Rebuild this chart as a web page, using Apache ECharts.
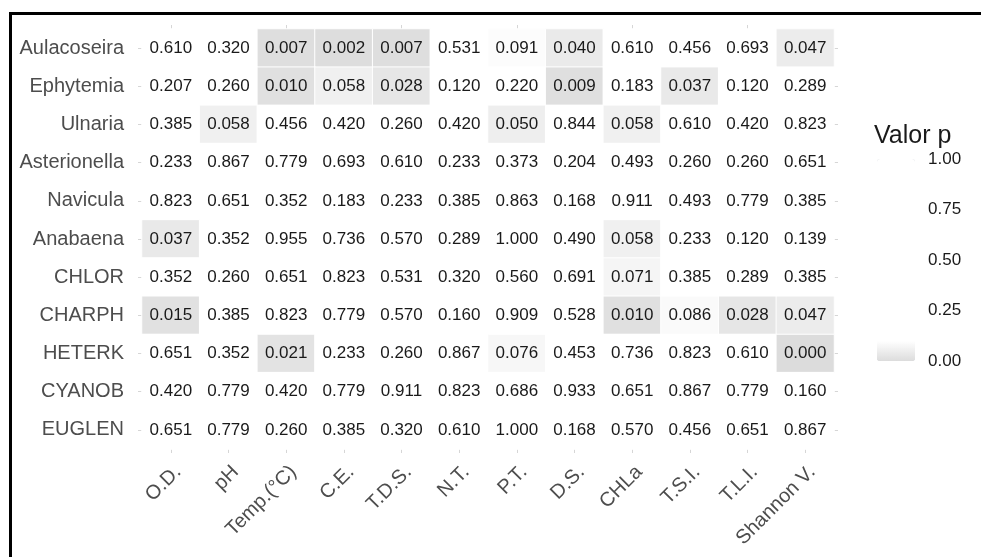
<!DOCTYPE html>
<html>
<head>
<meta charset="utf-8">
<script src="https://cdn.jsdelivr.net/npm/echarts@6/dist/echarts.min.js"></script>
<style>
  html, body { margin: 0; padding: 0; background: #fff; overflow: hidden; }
  #wrap { position: relative; width: 981px; height: 557px; overflow: hidden; }
  #frame { position: absolute; left: 9px; top: 12px; width: 1100px; height: 700px;
           border: 3px solid #000; box-sizing: border-box; pointer-events: none; }
  #chart { position: absolute; left: 0; top: 0; width: 981px; height: 557px; }
</style>
</head>
<body>
<div id="wrap">
  <div id="frame"></div>
  <div id="chart"></div>
</div>
<script>
// Environmental variables (columns)
const variables = ['O.D.', 'pH', 'Temp.(°C)', 'C.E.', 'T.D.S.', 'N.T.', 'P.T.', 'D.S.', 'CHLa', 'T.S.I.', 'T.L.I.', 'Shannon V.'];

// Taxa (rows, top to bottom)
const taxa = ['Aulacoseira', 'Ephytemia', 'Ulnaria', 'Asterionella', 'Navicula', 'Anabaena', 'CHLOR', 'CHARPH', 'HETERK', 'CYANOB', 'EUGLEN'];

// p-values per taxon, in the order of `variables`
const pAulacoseira  = [0.610, 0.320, 0.007, 0.002, 0.007, 0.531, 0.091, 0.040, 0.610, 0.456, 0.693, 0.047];
const pEphytemia    = [0.207, 0.260, 0.010, 0.058, 0.028, 0.120, 0.220, 0.009, 0.183, 0.037, 0.120, 0.289];
const pUlnaria      = [0.385, 0.058, 0.456, 0.420, 0.260, 0.420, 0.050, 0.844, 0.058, 0.610, 0.420, 0.823];
const pAsterionella = [0.233, 0.867, 0.779, 0.693, 0.610, 0.233, 0.373, 0.204, 0.493, 0.260, 0.260, 0.651];
const pNavicula     = [0.823, 0.651, 0.352, 0.183, 0.233, 0.385, 0.863, 0.168, 0.911, 0.493, 0.779, 0.385];
const pAnabaena     = [0.037, 0.352, 0.955, 0.736, 0.570, 0.289, 1.000, 0.490, 0.058, 0.233, 0.120, 0.139];
const pCHLOR        = [0.352, 0.260, 0.651, 0.823, 0.531, 0.320, 0.560, 0.691, 0.071, 0.385, 0.289, 0.385];
const pCHARPH       = [0.015, 0.385, 0.823, 0.779, 0.570, 0.160, 0.909, 0.528, 0.010, 0.086, 0.028, 0.047];
const pHETERK       = [0.651, 0.352, 0.021, 0.233, 0.260, 0.867, 0.076, 0.453, 0.736, 0.823, 0.610, 0.000];
const pCYANOB       = [0.420, 0.779, 0.420, 0.779, 0.911, 0.823, 0.686, 0.933, 0.651, 0.867, 0.779, 0.160];
const pEUGLEN       = [0.651, 0.779, 0.260, 0.385, 0.320, 0.610, 1.000, 0.168, 0.570, 0.456, 0.651, 0.867];

const rows = [pAulacoseira, pEphytemia, pUlnaria, pAsterionella, pNavicula, pAnabaena,
              pCHLOR, pCHARPH, pHETERK, pCYANOB, pEUGLEN];

// Colour bar tick labels
const legendTicks = [0, 0.25, 0.5, 0.75, 1];

const cells = [];
rows.forEach((vals, r) => vals.forEach((v, c) => cells.push([c, r, v])));

const FONT = '"Liberation Sans", Arial, sans-serif';
const tickStyle = { show: true, alignWithLabel: true, length: 4, lineStyle: { color: '#d6d6d6', width: 1 } };

const chart = echarts.init(document.getElementById('chart'), null, { renderer: 'canvas' });

chart.setOption({
  backgroundColor: 'transparent',
  animation: false,
  textStyle: { fontFamily: FONT },
  title: {
    text: 'Valor p',
    left: 869,
    top: 119,
    textStyle: { fontFamily: FONT, fontSize: 25, fontWeight: 'normal', color: '#1a1a1a' }
  },
  grid: [
    { left: 142, top: 29, width: 692, height: 420 },
    { left: 877, top: 159, width: 38, height: 202 }
  ],
  xAxis: [
    {
      type: 'category', data: variables, gridIndex: 0, position: 'bottom',
      axisLine: { show: false }, axisTick: tickStyle, splitLine: { show: false },
      axisLabel: {
        interval: 0, rotate: 45, margin: 27, fontSize: 20, color: '#4d4d4d', fontFamily: FONT,
        padding: [20, -10, 0, 0]
      }
    },
    {
      type: 'category', data: variables, gridIndex: 0, position: 'top',
      axisLine: { show: false }, axisTick: tickStyle, axisLabel: { show: false }, splitLine: { show: false }
    },
    { type: 'value', gridIndex: 1, show: false, min: 0, max: 1 }
  ],
  yAxis: [
    {
      type: 'category', data: taxa, inverse: true, gridIndex: 0, position: 'left',
      axisLine: { show: false }, axisTick: tickStyle, splitLine: { show: false },
      axisLabel: { interval: 0, margin: 18, fontSize: 20, color: '#4d4d4d', fontFamily: FONT }
    },
    {
      type: 'category', data: taxa, inverse: true, gridIndex: 0, position: 'right',
      axisLine: { show: false }, axisTick: tickStyle, axisLabel: { show: false }, splitLine: { show: false }
    },
    {
      type: 'value', gridIndex: 1, position: 'right', min: legendTicks[0], max: legendTicks[legendTicks.length - 1],
      interval: legendTicks[1] - legendTicks[0],
      axisLine: { show: false }, axisTick: { show: false }, splitLine: { show: false },
      axisLabel: {
        margin: 13, fontSize: 17, color: '#1a1a1a', fontFamily: FONT,
        formatter: v => v.toFixed(2)
      }
    }
  ],
  visualMap: {
    type: 'continuous',
    min: 0, max: 1,
    dimension: 2,
    seriesIndex: 0,
    calculable: false,
    hoverLink: false,
    orient: 'vertical',
    left: 877, top: 159,
    itemWidth: 38, itemHeight: 202,
    padding: 0,
    text: null,
    showLabel: false,
    inRange: {
      color: ['#dcdcdc', '#ffffff', '#ffffff', '#ffffff', '#ffffff', '#ffffff',
              '#ffffff', '#ffffff', '#ffffff', '#ffffff', '#ffffff']
    }
  },
  series: [{
    type: 'heatmap',
    xAxisIndex: 0, yAxisIndex: 0,
    data: cells,
    itemStyle: { borderColor: '#ffffff', borderWidth: 1 },
    label: {
      show: true, fontSize: 17, color: '#1a1a1a', fontFamily: FONT,
      formatter: p => p.value[2].toFixed(3)
    },
    emphasis: { disabled: true }
  }]
});
</script>
</body>
</html>
